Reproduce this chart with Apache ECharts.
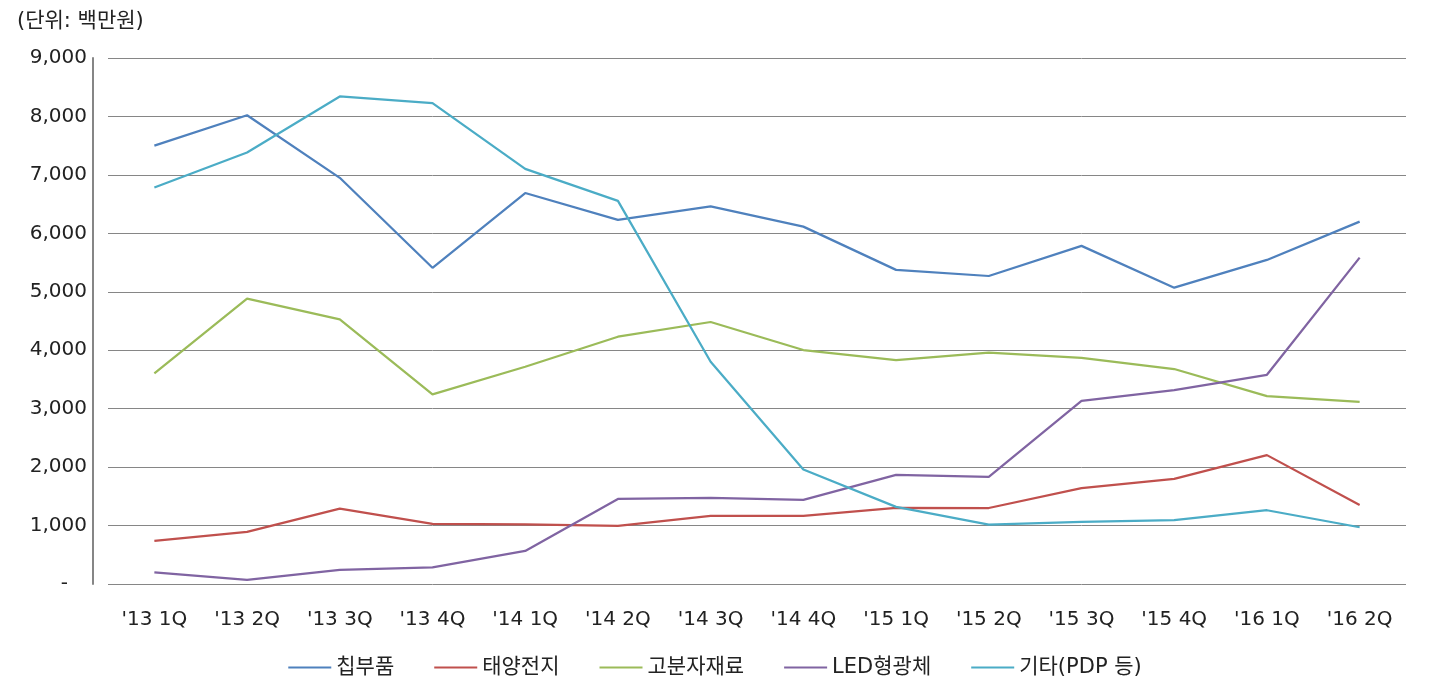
<!DOCTYPE html>
<html><head><meta charset="utf-8">
<script src="https://cdn.jsdelivr.net/npm/echarts@6/dist/echarts.min.js"></script>
<style>html,body{margin:0;padding:0;background:#fff}#c{width:1430px;height:700px}</style>
</head><body><div id="c"></div>
<script>
const categories = ["'13 1Q","'13 2Q","'13 3Q","'13 4Q","'14 1Q","'14 2Q","'14 3Q","'14 4Q","'15 1Q","'15 2Q","'15 3Q","'15 4Q","'16 1Q","'16 2Q"];
const chip    = [7500, 8020, 6950, 5410, 6690, 6230, 6460, 6115, 5375, 5270, 5785, 5070, 5545, 6200];
const solar   = [737, 891, 1291, 1028, 1022, 994, 1165, 1165, 1302, 1300, 1639, 1799, 2205, 1353];
const polymer = [3604, 4882, 4529, 3244, 3717, 4231, 4483, 4003, 3832, 3957, 3871, 3678, 3215, 3118];
const led     = [200, 69, 240, 286, 565, 1456, 1473, 1439, 1867, 1833, 3135, 3318, 3580, 5584];
const other   = [6783, 7383, 8342, 8229, 7103, 6555, 3803, 1960, 1319, 1017, 1062, 1091, 1262, 971];
const seriesNames = ['칩부품','태양전지','고분자재료','LED형광체','기타(PDP 등)'];
const colors = ['#4F81BD','#C0504D','#9BBB59','#8064A2','#4BACC6'];
const yTicks = {min:0, max:9000, interval:1000};

const font = '"DejaVu Sans", "Noto Sans CJK KR", sans-serif';
const chart = echarts.init(document.getElementById('c'));
const datas = [chip, solar, polymer, led, other];
chart.setOption({
  animation:false,
  color: colors,
  textStyle:{fontFamily:font},
  title:{text:'(단위: 백만원)', left:12, top:6, textStyle:{fontSize:21, fontWeight:'normal', color:'#222', fontFamily:font}},
  grid:{left:108, right:24, top:58, bottom:116},
  legend:{bottom:17, left:'center', icon:'rect', itemWidth:43, itemHeight:2, itemGap:40,
    textStyle:{fontSize:21, color:'#222', fontFamily:font}, data:seriesNames},
  xAxis:{type:'category', data:categories, boundaryGap:true,
    axisLine:{show:false}, axisTick:{show:false},
    axisLabel:{fontSize:20, color:'#222', margin:26, fontFamily:font}},
  yAxis:{type:'value', min:yTicks.min, max:yTicks.max, interval:yTicks.interval, offset:15,
    axisLine:{show:true, lineStyle:{color:'#868686', width:2}},
    axisTick:{show:false},
    splitLine:{lineStyle:{color:'#868686', width:1}},
    axisLabel:{fontSize:20, color:'#222', margin:6, fontFamily:font,
      formatter:v=> v===0 ? '-   ' : v.toLocaleString('en-US')}},
  series: seriesNames.map((n,i)=>({name:n, type:'line', data:datas[i], symbol:'none',
    lineStyle:{width:2.25, color:colors[i]}, itemStyle:{color:colors[i]}}))
});
</script></body></html>
